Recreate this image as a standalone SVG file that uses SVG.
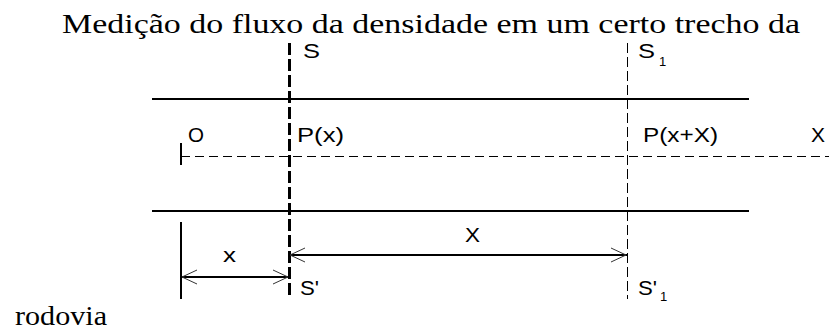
<svg xmlns="http://www.w3.org/2000/svg" width="829" height="330" viewBox="0 0 829 330">
<style>
.title{font-family:"Liberation Serif","DejaVu Serif",serif;font-size:28px;fill:#000}
.lbl{font-family:"Liberation Sans",Arial,sans-serif;font-size:20px;fill:#000}
.sub{font-family:"Liberation Sans",Arial,sans-serif;font-size:13px;fill:#000}
.road{stroke:#000;stroke-width:2;fill:none}
.thick{stroke:#000;stroke-width:3;stroke-dasharray:12 4;fill:none}
.thin{stroke:#000;stroke-width:1;stroke-dasharray:10 4;fill:none}
.axis{stroke:#000;stroke-width:1;stroke-dasharray:9 5;fill:none}
.solid{stroke:#000;stroke-width:2;fill:none}
.head{stroke:#333;stroke-width:1;fill:none}
</style>
<rect width="829" height="330" fill="#fff"/>
<text class="title" x="62" y="33" textLength="738" lengthAdjust="spacingAndGlyphs">Medição do fluxo da densidade em um certo trecho da</text>
<text class="title" x="15" y="325" textLength="92" lengthAdjust="spacingAndGlyphs">rodovia</text>
<g id="road">
<line class="road" x1="152" y1="99" x2="749" y2="99"/>
<line class="road" x1="152" y1="211" x2="749" y2="211"/>
</g>
<g id="section-S">
<line class="thick" x1="289.5" y1="43" x2="289.5" y2="299"/>
<text class="lbl" x="303" y="58" textLength="17" lengthAdjust="spacingAndGlyphs">S</text>
<text class="lbl" x="300" y="295" textLength="19" lengthAdjust="spacingAndGlyphs">S'</text>
<text class="lbl" x="297" y="142" textLength="47" lengthAdjust="spacingAndGlyphs">P(x)</text>
</g>
<g id="section-S1">
<line class="thin" x1="627.5" y1="43" x2="627.5" y2="299"/>
<text class="lbl" x="638" y="58" textLength="17" lengthAdjust="spacingAndGlyphs">S</text>
<text class="sub" x="659" y="66">1</text>
<text class="lbl" x="638" y="295" textLength="19" lengthAdjust="spacingAndGlyphs">S'</text>
<text class="sub" x="660" y="301">1</text>
<text class="lbl" x="643" y="142" textLength="75" lengthAdjust="spacingAndGlyphs">P(x+X)</text>
</g>
<g id="axis">
<line class="axis" x1="181" y1="156.5" x2="829" y2="156.5"/>
<line class="solid" x1="181" y1="143" x2="181" y2="165"/>
<text class="lbl" x="188" y="142" textLength="16" lengthAdjust="spacingAndGlyphs">O</text>
<text class="lbl" x="811" y="142" textLength="14" lengthAdjust="spacingAndGlyphs">X</text>
</g>
<g id="connectors">
<line class="solid" x1="181" y1="222" x2="181" y2="299"/>
<line class="solid" x1="181" y1="277" x2="289" y2="277"/>
<polyline class="head" points="197,270 182,277 197,284"/>
<polyline class="head" points="273,270 288,277 273,284"/>
<text class="lbl" x="223" y="262" textLength="13" lengthAdjust="spacingAndGlyphs">x</text>
<line class="solid" x1="289" y1="255" x2="627" y2="255"/>
<polyline class="head" points="305,248 290,255 305,262"/>
<polyline class="head" points="611,248 626,255 611,262"/>
<text class="lbl" x="465" y="242" textLength="15" lengthAdjust="spacingAndGlyphs">X</text>
</g>
</svg>
